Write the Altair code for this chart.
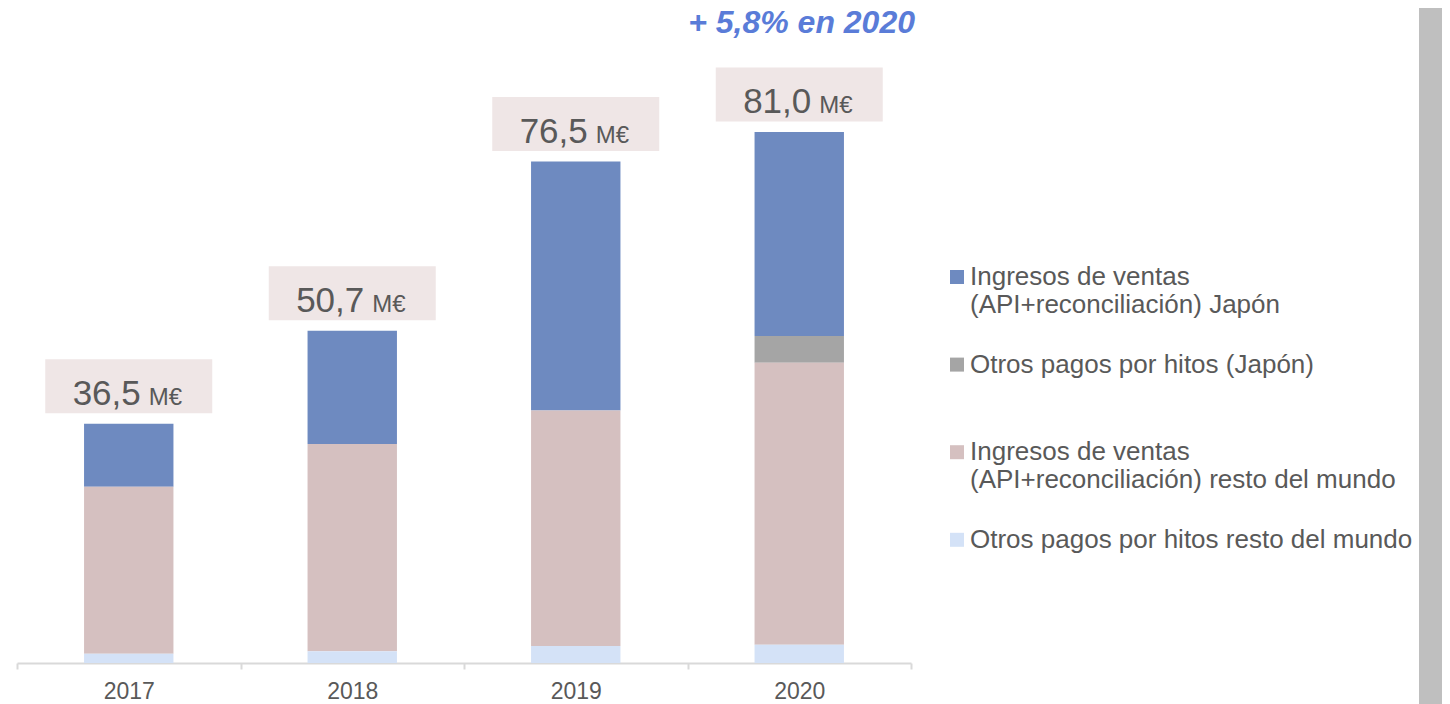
import altair as alt
import pandas as pd

years = ["2017", "2018", "2019", "2020"]
series = [
    "Ingresos de ventas\n(API+reconciliación) Japón",
    "Otros pagos por hitos (Japón)",
    "Ingresos de ventas\n(API+reconciliación) resto del mundo",
    "Otros pagos por hitos resto del mundo",
]
japan_sales = [9.6, 17.3, 38.0, 31.1]
japan_milestones = [0.0, 0.0, 0.0, 4.1]
row_sales = [25.5, 31.6, 35.9, 43.0]
row_milestones = [1.4, 1.8, 2.6, 2.8]
totals = [36.5, 50.7, 76.5, 81.0]
total_labels = ["36,5", "50,7", "76,5", "81,0"]
unit_label = "M€"
title_text = "+ 5,8% en 2020"
colors = ["#6E8AC0", "#A5A5A5", "#D5C0C0", "#D4E2F7"]

rows = []
for i, (name, vals) in enumerate(zip(series, [japan_sales, japan_milestones, row_sales, row_milestones])):
    for y, v in zip(years, vals):
        rows.append({"year": y, "series": name, "value": v, "rank": len(series) - 1 - i})
df = pd.DataFrame(rows)
tot = pd.DataFrame({"year": years, "total": totals, "label": total_labels, "unit": unit_label})

FONT = "Liberation Sans"
TXT = "#595959"

xenc = alt.X(
    "year:N", sort=years, title=None,
    scale=alt.Scale(paddingInner=0, paddingOuter=0),
    axis=alt.Axis(labelAngle=0, labelFontSize=23, labelColor=TXT, labelFont=FONT,
                  domainColor="#D9D9D9", domainWidth=2, tickColor="#D9D9D9", tickWidth=2,
                  tickSize=6, tickBand="extent", labelPadding=11, grid=False),
)
yscale = alt.Scale(domain=[0, 90], nice=False, zero=True)

label_expr = "split(datum.label, '\\n')"

bars = alt.Chart(df).mark_bar(width=alt.RelativeBandSize(0.4)).encode(
    x=xenc,
    y=alt.Y("value:Q", stack="zero", scale=yscale, axis=None),
    color=alt.Color(
        "series:N",
        scale=alt.Scale(domain=series, range=colors),
        legend=alt.Legend(
            title=None, orient="none", legendX=927, legendY=191, padding=0,
            symbolType="square", symbolSize=196, symbolStrokeWidth=0, symbolOpacity=1,
            labelFontSize=26, labelColor=TXT, labelFont=FONT,
            labelOffset=0, labelLimit=700, labelBaseline="middle",
            gridAlign="all", rowPadding=33.6, columns=1, labelExpr=label_expr,
        ),
    ),
    order=alt.Order("rank:Q", sort="ascending"),
)

boxes = alt.Chart(tot).mark_point(
    shape="M-1,-0.3234L1,-0.3234L1,0.3234L-1,0.3234Z", size=167 * 167,
    filled=True, color="#EFE6E6", opacity=1, strokeWidth=0, yOffset=-37.5,
).encode(x=xenc, y=alt.Y("total:Q", scale=yscale, axis=None))

nums = alt.Chart(tot).mark_text(
    align="right", baseline="alphabetic", dx=12, dy=-19, fontSize=35, font=FONT, color=TXT,
).encode(x=xenc, y=alt.Y("total:Q", scale=yscale, axis=None), text="label:N")

units = alt.Chart(tot).mark_text(
    align="left", baseline="alphabetic", dx=20, dy=-19, fontSize=24, font=FONT, color=TXT,
).encode(x=xenc, y=alt.Y("total:Q", scale=yscale, axis=None), text="unit:N")

strip = alt.Chart(tot).mark_rect(color="#BFBFBF").encode(
    x=alt.value(1402), x2=alt.value(1425), y=alt.value(-65), y2=alt.value(631)
)

chart = alt.layer(strip, bars, boxes, nums, units).properties(
    width=894, height=590,
    autosize=alt.AutoSizeParams(type="none"),
    padding={"left": 9, "top": 65, "right": 531, "bottom": 41},
    title=alt.TitleParams(
        text=title_text, anchor="end", fontSize=32, fontStyle="italic", fontWeight="bold",
        color="#5A7CD8", font=FONT, offset=-32, dx=4, frame="group",
    ),
).configure_view(stroke=None)

chart.save("out.html", embed_options={"renderer": "svg", "actions": False})
